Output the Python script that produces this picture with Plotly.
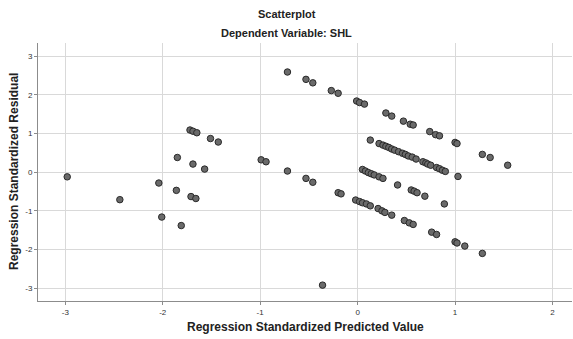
import plotly.graph_objects as go

# Regression standardized predicted values (x) and residuals (y)
predicted = [
    -2.98, -2.44, -2.04, -2.01, -1.85, -1.86, -1.81, -1.72, -1.69, -1.65,
    -1.69, -1.71, -1.66, -1.51, -1.43, -1.57,
    -0.72, -0.53, -0.46, -0.27, -0.20, -0.01, 0.02, 0.07,
    -0.99, -0.94, -0.72, -0.53, -0.46, -0.20, -0.17, -0.36,
    0.29, 0.35, 0.47, 0.54, 0.57, 0.74, 0.80, 0.84, 1.00, 1.02, 1.28, 1.36, 1.54,
    0.13, 0.22, 0.26, 0.29, 0.32, 0.35, 0.38, 0.42, 0.46, 0.49, 0.52, 0.56,
    0.60, 0.67, 0.70, 0.72, 0.75, 0.81, 0.84, 0.87, 0.90, 1.03,
    0.05, 0.08, 0.11, 0.14, 0.17, 0.22, 0.26, 0.41, 0.55, 0.58, 0.61, 0.69, 0.89,
    -0.02, 0.02, 0.05, 0.09, 0.13, 0.21, 0.25, 0.28, 0.35, 0.48, 0.53, 0.57,
    0.76, 0.81, 1.00, 1.02, 1.10, 1.28,
]
residual = [
    -0.12, -0.71, -0.28, -1.16, 0.38, -0.47, -1.38, 1.09, 1.06, 1.02,
    0.21, -0.63, -0.68, 0.87, 0.78, 0.08,
    2.59, 2.40, 2.31, 2.11, 2.04, 1.84, 1.80, 1.76,
    0.32, 0.27, 0.03, -0.16, -0.26, -0.53, -0.56, -2.92,
    1.53, 1.45, 1.32, 1.24, 1.22, 1.05, 0.97, 0.94, 0.77, 0.74, 0.46, 0.38, 0.18,
    0.83, 0.74, 0.70, 0.67, 0.64, 0.60, 0.57, 0.53, 0.49, 0.46, 0.42, 0.39,
    0.34, 0.27, 0.24, 0.21, 0.18, 0.12, 0.09, 0.05, 0.02, -0.11,
    0.07, 0.03, -0.01, -0.04, -0.07, -0.12, -0.16, -0.33, -0.46, -0.49, -0.53, -0.62, -0.82,
    -0.72, -0.76, -0.79, -0.82, -0.87, -0.94, -1.00, -1.04, -1.11, -1.25, -1.31, -1.35,
    -1.55, -1.61, -1.80, -1.83, -1.91, -2.10,
]

x_ticks = [-3, -2, -1, 0, 1, 2]
y_ticks = [-3, -2, -1, 0, 1, 2, 3]

title_text = "Scatterplot"
subtitle_text = "Dependent Variable: SHL"
x_title = "Regression Standardized Predicted Value"
y_title = "Regression Standardized Residual"

FONT = "Liberation Sans, Arial, sans-serif"

fig = go.Figure()
fig.add_trace(go.Scatter(
    x=predicted, y=residual, mode="markers",
    marker=dict(size=6.5, color="#6a6a6a", line=dict(color="#2a2a2a", width=1)),
    hoverinfo="x+y", showlegend=False,
))

axis_common = dict(
    showgrid=True, gridcolor="#d9d9d9", gridwidth=1,
    zeroline=False, showline=True, linecolor="#8c8c8c", linewidth=1,
    ticks="outside", ticklen=3, tickcolor="#8c8c8c",
    tickfont=dict(family=FONT, size=8, color="#333333"),
)

fig.update_layout(
    width=573, height=339,
    margin=dict(l=38, r=1, t=43, b=38),
    paper_bgcolor="white", plot_bgcolor="white",
    font=dict(family=FONT),
    xaxis=dict(range=[-3.28, 2.2], tickvals=x_ticks, ticktext=[str(v) for v in x_ticks],
               mirror=False, **axis_common),
    yaxis=dict(range=[-3.33, 3.34], tickvals=y_ticks, ticktext=[str(v) for v in y_ticks],
               mirror=False, **axis_common),
    annotations=[
        dict(text="<b>%s</b>" % title_text, xref="paper", yref="paper",
             x=0.466, y=1 + 29.5 / 258, xanchor="center", yanchor="middle",
             showarrow=False, font=dict(family=FONT, size=11, color="#222222")),
        dict(text="<b>%s</b>" % subtitle_text, xref="paper", yref="paper",
             x=0.466, y=1 + 9.5 / 258, xanchor="center", yanchor="middle",
             showarrow=False, font=dict(family=FONT, size=11, color="#222222")),
        dict(text="<b>%s</b>" % x_title, xref="paper", yref="paper",
             x=0.5, y=-26 / 258, xanchor="center", yanchor="middle",
             showarrow=False, font=dict(family=FONT, size=12, color="#222222")),
        dict(text="<b>%s</b>" % y_title, xref="paper", yref="paper",
             x=-24 / 534, y=0.5, xanchor="center", yanchor="middle", textangle=-90,
             showarrow=False, font=dict(family=FONT, size=12, color="#222222")),
    ],
)

fig.write_html(
    "out.html",
    config={"displayModeBar": False},
    post_script="document.body.style.margin='0';document.body.style.padding='0';",
)
